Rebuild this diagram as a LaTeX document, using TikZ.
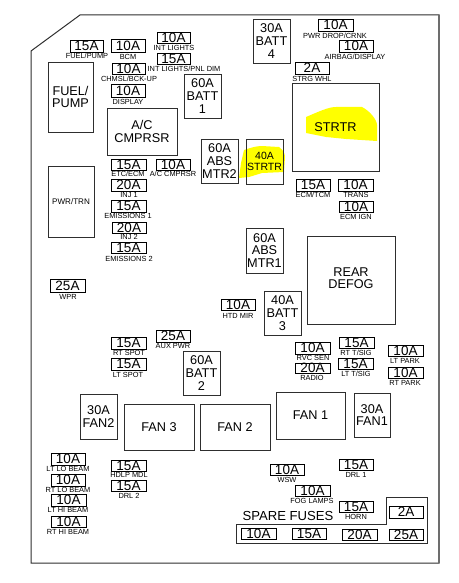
\documentclass[tikz,border=0pt]{standalone}
\usepackage{fontspec}
\setmainfont{Liberation Sans}
\definecolor{linec}{gray}{0.18}
\definecolor{hl}{RGB}{255,255,0}
\tikzset{
  outline/.style={draw=linec,line width=1pt,line join=miter},
  fusebox/.style={draw=black,line width=0.9pt,inner sep=0pt,outer sep=0pt,font=\fontsize{13.5}{13.5}\selectfont},
  fuselabel/.style={inner sep=0pt,text=black,font=\fontsize{7.4}{7.4}\selectfont},
  relay/.style={draw=linec,line width=0.9pt,inner sep=0pt,outer sep=0pt,align=center,font=\fontsize{12.7}{12.8}\selectfont},
  smallrelay/.style={relay,font=\fontsize{10.5}{11}\selectfont},
  blob/.style={fill=hl,draw=none}
}
\newcommand{\fusebare}[6]{\node[fusebox,minimum width={(#4-#2)*1pt},minimum height={(#5-#3)*1pt}] (#1) at ({(#2+#4)/2},{(#3+#5)/2}) {\raisebox{-0.6pt}{#6}};}
\newcommand{\fuse}[9]{\fusebare{#1}{#2}{#3}{#4}{#5}{#6}\node[fuselabel] (#1lab) at (#7,#8) {#9};}
\newcommand{\blk}[7][relay]{\node[#1,minimum width={(#5-#3)*1pt},minimum height={(#6-#4)*1pt}] (#2) at ({(#3+#5)/2},{(#4+#6)/2}) {#7};}
\begin{document}
\begin{tikzpicture}[x=1pt,y=-1pt]
\useasboundingbox (0,0) rectangle (458,583);
% highlighter strokes
\fill[blob] (306,117) .. controls (318,112) and (328,107) .. (336,107) -- (362,107) .. controls (370,111) and (377,120) .. (377,125) -- (377,141) -- (346,139) -- (326,137) -- (306,133) -- cycle;
\fill[blob] (244,150) .. controls (250,148) and (256,146) .. (262,146) -- (279,147) .. controls (283,150) and (285,153) .. (285,157) -- (284,172) -- (262,173) -- (249,177) -- (239,178) -- (241,163) -- cycle;
% housing
\draw[outline] (31,51) -- (80,15) -- (439,15) -- (439,563) -- (31,563) -- cycle;
\draw[draw=linec!70,line width=1.4pt] (439,15) -- (439,563);
% relays
\blk{fuelpump}{48}{62}{93}{132}{FUEL/\\PUMP}
\blk{pwrtrn}{48}{166}{94}{237}{\fontsize{8.1}{9}\selectfont\raisebox{-3pt}{PWR/TRN}}
\blk{ac}{107}{108}{177}{155}{A/C\\CMPRSR}
\blk{batta}{184}{74}{221}{118}{60A\\BATT\\1}
\blk{absb}{201}{139}{238}{183}{60A\\ABS\\MTR2}
\blk{battd}{253}{19}{290}{63}{30A\\BATT\\4}
\blk{strtr}{292}{83}{379}{171}{STRTR}
\blk[smallrelay]{strtrf}{246}{139}{283}{184}{40A\\STRTR}
\blk{absa}{246}{228}{283}{273}{60A\\ABS\\MTR1}
\blk{defog}{307}{236}{395}{324}{\raisebox{-2pt}{\begin{tabular}{@{}c@{}}REAR\\[-1pt]DEFOG\end{tabular}}}
\blk{battc}{264}{291}{301}{335}{40A\\BATT\\3}
\blk{battb}{183}{351}{220}{395}{60A\\BATT\\2}
\blk{fantwo}{80}{394}{117}{439}{30A\\FAN2}
\blk{fanthreeb}{124}{404}{194}{450}{FAN 3}
\blk{fantwob}{200}{404}{270}{450}{FAN 2}
\blk{fanoneb}{276}{392}{345}{439}{FAN 1}
\blk{fanone}{354}{393}{390}{437}{30A\\FAN1}
% fuses
\fuse{fa}{70}{40}{103}{52}{15A}{87}{56}{FUEL/PUMP}
\fuse{fb}{111}{39}{145}{52}{10A}{128}{57}{BCM}
\fuse{fc}{157}{32}{190}{43}{10A}{174}{48}{INT LIGHTS}
\fuse{fd}{157}{53}{190}{64}{15A}{184}{69}{INT LIGHTS/PNL DIM}
\fuse{fe}{112}{63}{145}{74}{10A}{129}{79}{CHMSL/BCK-UP}
\fuse{ff}{111}{84}{145}{97}{10A}{128}{102}{DISPLAY}
\fuse{fg}{111}{159}{146}{170}{15A}{128}{174}{ETC/ECM}
\fuse{fh}{156}{159}{190}{170}{10A}{173}{174}{A/C CMPRSR}
\fuse{fi}{111}{179}{146}{191}{20A}{129}{195}{INJ 1}
\fuse{fj}{111}{200}{146}{212}{15A}{128}{216}{EMISSIONS 1}
\fuse{fk}{112}{222}{146}{233}{20A}{129}{237}{INJ 2}
\fuse{fl}{111}{242}{146}{253}{15A}{129}{259}{EMISSIONS 2}
\fuse{fm}{50}{279}{85}{292}{25A}{68}{297}{WPR}
\fuse{fn}{221}{299}{255}{310}{10A}{238}{316}{HTD MIR}
\fuse{fo}{156}{330}{190}{342}{25A}{173}{346}{AUX PWR}
\fuse{fp}{111}{337}{146}{349}{15A}{129}{353}{RT SPOT}
\fuse{fq}{111}{358}{146}{370}{15A}{128}{375}{LT SPOT}
\fuse{fr}{318}{19}{353}{31}{10A}{335}{36}{PWR DROP/CRNK}
\fuse{fs}{339}{40}{373}{52}{10A}{355}{57}{AIRBAG/DISPLAY}
\fuse{ft}{295}{62}{329}{74}{2A}{312}{79}{STRG WHL}
\fuse{fu}{296}{179}{330}{191}{15A}{313}{195}{ECM/TCM}
\fuse{fv}{338}{179}{373}{191}{10A}{356}{195}{TRANS}
\fuse{fw}{339}{201}{373}{212}{10A}{356}{217}{ECM IGN}
\fuse{fx}{295}{342}{330}{354}{10A}{313}{358}{RVC SEN}
\fuse{fy}{295}{363}{330}{373}{20A}{312}{378}{RADIO}
\fuse{fz}{339}{337}{374}{348}{15A}{356}{353}{RT T/SIG}
\fuse{ga}{338}{358}{373}{369}{15A}{356}{374}{LT T/SIG}
\fuse{gb}{388}{345}{423}{356}{10A}{405}{361}{LT PARK}
\fuse{gc}{388}{367}{423}{378}{10A}{405}{383}{RT PARK}
\fuse{gd}{51}{453}{85}{465}{10A}{68}{469}{LT LO BEAM}
\fuse{ge}{51}{474}{85}{486}{10A}{68}{490}{RT LO BEAM}
\fuse{gf}{51}{494}{86}{506}{10A}{68}{510}{LT HI BEAM}
\fuse{gg}{51}{516}{86}{527}{10A}{68}{532}{RT HI BEAM}
\fuse{gh}{111}{460}{146}{471}{15A}{129}{475}{HDLP MDL}
\fuse{gi}{111}{480}{146}{491}{15A}{129}{496}{DRL 2}
\fuse{gj}{270}{464}{304}{475}{10A}{287}{480}{WSW}
\fuse{gk}{295}{485}{330}{496}{10A}{312}{501}{FOG LAMPS}
\fuse{gl}{339}{459}{373}{470}{15A}{356}{475}{DRL 1}
\fuse{gm}{339}{501}{373}{512}{15A}{356}{517}{HORN}
% spare fuses
\draw[outline] (236,524) -- (386,524) -- (386,497) -- (427,497) -- (427,543) -- (236,543) -- cycle;
\node[inner sep=0pt,font=\fontsize{13.1}{13}\selectfont] (sparelab) at (288,516) {SPARE FUSES};
\fusebare{sa}{389}{506}{423}{518}{2A}
\fusebare{sb}{241}{528}{276}{539}{10A}
\fusebare{sc}{292}{528}{326}{539}{15A}
\fusebare{sd}{342}{529}{377}{540}{20A}
\fusebare{se}{389}{529}{423}{540}{25A}
\end{tikzpicture}
\end{document}
